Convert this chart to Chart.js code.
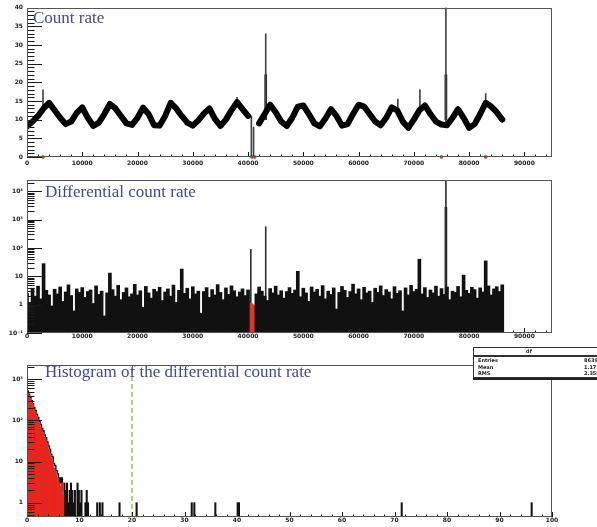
<!DOCTYPE html>
<html>
<head>
<meta charset="utf-8">
<script src="https://cdn.jsdelivr.net/npm/chart.js@4.4.1/dist/chart.umd.min.js"></script>
<style>
  html, body { margin: 0; padding: 0; background: #fff; }
  body { width: 597px; height: 527px; position: relative; overflow: hidden; }
  canvas { position: absolute; left: 0; }
  .title {
    position: absolute;
    font-family: "Liberation Serif", "DejaVu Serif", serif;
    font-size: 17px;
    line-height: 17px;
    color: #45489a;
    white-space: nowrap;
  }
  #stats {
    position: absolute;
    left: 473px;
    top: 347px;
    width: 140px;
    height: 29px;
    background: #fff;
    border: 1px solid #333;
    box-shadow: 0 2px 0 #222;
    font-family: "DejaVu Sans", sans-serif;
    font-size: 5px;
    font-weight: bold;
    color: #222;
  }
  #stats .hd { height: 7px; line-height: 7px; text-align: center; border-bottom: 2px solid #333; padding-right: 30px; }
  #stats .row { height: 6.5px; line-height: 6.5px; position: relative; padding-left: 4px; }
  #stats .row span { position: absolute; left: 110px; }
</style>
</head>
<body>
<canvas id="rateChart" width="597" height="170" style="top:0px"></canvas>
<canvas id="diffChart" width="597" height="175" style="top:170px"></canvas>
<canvas id="histChart" width="597" height="182" style="top:345px"></canvas>

<div class="title" style="left:33px; top:9px">Count rate</div>
<div class="title" style="left:45px; top:183px">Differential count rate</div>
<div class="title" style="left:45px; top:363px">Histogram of the differential count rate</div>

<div id="stats">
  <div class="hd">df</div>
  <div class="row">Entries<span>86399</span></div>
  <div class="row">Mean<span>1.171</span></div>
  <div class="row">RMS<span>2.358</span></div>
</div>

<script>
// tick labels
const timeTicks = [0, 10000, 20000, 30000, 40000, 50000, 60000, 70000, 80000, 90000];
const histTicks = [0, 10, 20, 30, 40, 50, 60, 70, 80, 90, 100];

// ---- panel 1: count rate ----
const rateTime = [
    0, 1000, 2000, 3000, 4000, 5000, 6000, 7000, 8000, 9000,
    10000, 11000, 12000, 13000, 14000, 15000, 16000, 17000, 18000, 19000,
    20000, 21000, 22000, 23000, 24000, 25000, 26000, 27000, 28000, 29000,
    30000, 31000, 32000, 33000, 34000, 35000, 36000, 37000, 38000, 39000,
    40000, 41000, 42000, 43000, 44000, 45000, 46000, 47000, 48000, 49000,
    50000, 51000, 52000, 53000, 54000, 55000, 56000, 57000, 58000, 59000,
    60000, 61000, 62000, 63000, 64000, 65000, 66000, 67000, 68000, 69000,
    70000, 71000, 72000, 73000, 74000, 75000, 76000, 77000, 78000, 79000,
    80000, 81000, 82000, 83000, 84000, 85000, 86000
];
const rateValue = [
    8.2, 9.5, 11.0, 13.0, 14.5, 12.5, 10.5, 8.8, 9.5, 11.8,
    13.3, 10.5, 8.3, 9.2, 11.5, 14.2, 13.0, 11.0, 9.0, 8.6,
    10.5, 13.2, 11.5, 8.5, 8.4, 11.0, 14.5, 13.0, 11.0, 9.2,
    8.4, 9.8, 11.6, 13.0, 10.2, 8.3, 10.0, 12.5, 14.7, 12.8,
    11.0, null, 9.0, 11.5, 14.0, 12.0, 9.5, 8.3, 10.5, 13.5,
    13.8, 11.5, 9.0, 8.2, 10.3, 12.8, 11.0, 8.4, 8.8, 11.5,
    14.0, 13.5, 11.5, 9.5, 8.5, 10.5, 13.3, 12.5, 9.5, 7.8,
    10.0, 12.5, 13.8, 11.5, 9.5, 8.7, 8.5, 10.5, 12.8, 10.5,
    7.8, 8.8, 11.5, 14.5, 13.5, 12.0, 10.0
];
// thin spikes and the drop-out
const spikeTime = [2900, 38000, 40600, 41000, 43200, 67100, 71100, 75800, 83000];
const spikeLow  = [13, 14, 0, 0, 10, 12, 13, 9, 14];
const spikeHigh = [18, 16, 11, 8, 33, 15.5, 18, 40, 17];
const spikeCoreTime = [43200, 75800];
const spikeCoreHigh = [22, 22];
const flagTime = [2900, 40700, 41200, 75000, 83000];

// ---- panel 2: differential count rate ----
const diffTime = [
    0, 500, 1000, 1500, 2000, 2500, 3000, 3500, 4000, 4500,
    5000, 5500, 6000, 6500, 7000, 7500, 8000, 8500, 9000, 9500,
    10000, 10500, 11000, 11500, 12000, 12500, 13000, 13500, 14000, 14500,
    15000, 15500, 16000, 16500, 17000, 17500, 18000, 18500, 19000, 19500,
    20000, 20500, 21000, 21500, 22000, 22500, 23000, 23500, 24000, 24500,
    25000, 25500, 26000, 26500, 27000, 27500, 28000, 28500, 29000, 29500,
    30000, 30500, 31000, 31500, 32000, 32500, 33000, 33500, 34000, 34500,
    35000, 35500, 36000, 36500, 37000, 37500, 38000, 38500, 39000, 39500,
    40000, 40500, 41000, 41500, 42000, 42500, 43000, 43500, 44000, 44500,
    45000, 45500, 46000, 46500, 47000, 47500, 48000, 48500, 49000, 49500,
    50000, 50500, 51000, 51500, 52000, 52500, 53000, 53500, 54000, 54500,
    55000, 55500, 56000, 56500, 57000, 57500, 58000, 58500, 59000, 59500,
    60000, 60500, 61000, 61500, 62000, 62500, 63000, 63500, 64000, 64500,
    65000, 65500, 66000, 66500, 67000, 67500, 68000, 68500, 69000, 69500,
    70000, 70500, 71000, 71500, 72000, 72500, 73000, 73500, 74000, 74500,
    75000, 75500, 76000, 76500, 77000, 77500, 78000, 78500, 79000, 79500,
    80000, 80500, 81000, 81500, 82000, 82500, 83000, 83500, 84000, 84500,
    85000, 85500, 86000
];
const diffValue = [
    2.5, 1.2, 3.8, 2.0, 4.5, 1.6, 28, 3.2, 2.2, 0.9,
    3.5, 2.4, 4.2, 1.3, 2.8, 5.0, 2.1, 0.6, 3.6, 2.7,
    4.0, 1.8, 2.9, 3.3, 1.1, 4.6, 2.3, 3.0, 0.4, 2.6,
    13, 3.4, 2.0, 4.8, 1.5, 2.7, 3.9, 1.9, 2.4, 5.2,
    2.2, 3.1, 0.8, 4.4, 2.6, 1.7, 3.5, 2.9, 4.1, 1.4,
    2.8, 3.6, 2.0, 4.9, 1.2, 3.2, 18, 2.5, 3.8, 1.6,
    4.3, 2.4, 3.0, 0.5, 2.9, 4.0, 1.8, 3.4, 2.2, 5.1,
    2.7, 1.5, 3.9, 2.3, 4.6, 3.1, 1.9, 2.8, 3.6, 2.1,
    3.3, null, null, 2.4, 4.2, 3.0, 2.0, 1.4, 3.7, 2.6,
    4.5, 2.2, 3.1, 1.7, 2.9, 4.0, 2.5, 3.3, 15, 1.9,
    3.8, 2.6, 1.3, 4.2, 2.8, 3.5, 2.0, 4.7, 1.6, 3.0,
    2.3, 3.9, 0.7, 2.7, 4.4, 3.2, 1.8, 2.9, 5.3, 2.4,
    3.6, 1.5, 4.1, 2.6, 3.0, 1.2, 3.8, 2.7, 4.6, 2.1,
    3.4, 2.8, 1.6, 4.3, 2.5, 3.1, 0.6, 3.9, 2.2, 4.8,
    2.9, 3.5, 40, 2.4, 4.0, 1.8, 3.3, 2.6, 4.5, 2.0,
    3.7, 2.3, 4.2, 1.5, 3.0, 2.7, 4.4, 1.9, 11, 3.2,
    2.5, 4.1, 3.4, 1.7, 3.9, 2.8, 35, 4.6, 2.2, 3.6,
    4.3, 2.9, 5.0
];
const diffSpikeTime = [40500, 43200, 75800];
const diffSpikeValue = [90, 560, 25000];
const diffCoreTime = [75800];
const diffCoreValue = [2700];
const diffRedTime = [40600, 40900, 41200, 43000];
const diffRedValue = [1.1, 1.0, 0.9, 0.3];

// ---- panel 3: histogram of the differential count rate ----
const histX = [
    0.125, 0.375, 0.625, 0.875, 1.125, 1.375, 1.625, 1.875, 2.125, 2.375,
    2.625, 2.875, 3.125, 3.375, 3.625, 3.875, 4.125, 4.375, 4.625, 4.875,
    5.125, 5.375, 5.625, 5.875, 6.125, 6.375, 6.625, 6.875
];
const histCount = [
    520, 430, 360, 300, 255, 205, 175, 140, 118, 95,
    80, 64, 55, 44, 38, 30, 24, 20, 15, 13,
    9, 8, 6, 5, 4, 3, 4, 2
];
const histRed = [
    480, 410, 340, 285, 240, 190, 160, 125, 105, 85,
    70, 55, 46, 38, 32, 25, 20, 16, 12, 10,
    7, 6, 5, 4, 3, 2.5, 3, 1.5
];
const tailX = [
    7.125, 7.375, 7.625, 7.875, 8.125, 8.375, 8.625, 8.875, 9.125, 9.625,
    9.875, 10.125, 10.375, 11.125, 11.375, 11.625, 13.375, 13.875, 14.375, 17.625,
    20.875, 31.375, 31.875, 35.875, 40.125, 40.375, 71.375, 96.125
];
const tailCount = [
    3, 2, 3, 1, 2, 3, 2, 1, 2, 3,
    2, 1, 2, 1, 2, 1, 1, 1, 1, 1,
    1, 1, 1, 1, 1, 1, 1, 1
];
const cutX = 20;
const histMin = 0.45;
const histMax = 2200;

const sup = { "-": "\u207B", "0": "\u2070", "1": "\u00B9", "2": "\u00B2", "3": "\u00B3", "4": "\u2074", "5": "\u2075" };
const logLabel = (v) => {
    const e = Math.round(Math.log10(v));
    if (Math.abs(Math.log10(v) - e) > 1e-6) return null;
    if (e === 0) return "1";
    if (e === 1) return "10";
    return "10" + String(e).split("").map(c => sup[c]).join("");
};

// ROOT-like frame with ticks drawn inside
const rootAxes = {
    id: "rootAxes",
    afterDatasetsDraw(chart, args, opts) {
        const ctx = chart.ctx;
        const a = chart.chartArea;
        const xs = chart.scales.x;
        const ys = chart.scales.y;
        ctx.save();
        ctx.strokeStyle = "#1a1a1a";
        ctx.lineWidth = 1;
        ctx.beginPath();
        const xMinor = opts.xStep / 5;
        for (let i = 0; xs.min + i * xMinor <= xs.max + 1e-9; i++) {
            const px = Math.round(xs.getPixelForValue(xs.min + i * xMinor)) + 0.5;
            const len = i % 5 === 0 ? 5 : 2.5;
            ctx.moveTo(px, a.bottom);
            ctx.lineTo(px, a.bottom - len);
        }
        if (ys.type === "logarithmic") {
            for (let e = Math.floor(Math.log10(ys.min)); e <= Math.ceil(Math.log10(ys.max)); e++) {
                for (let k = 1; k < 10; k++) {
                    const v = k * Math.pow(10, e);
                    if (v < ys.min || v > ys.max) continue;
                    const py = Math.round(ys.getPixelForValue(v)) + 0.5;
                    ctx.moveTo(a.left, py);
                    ctx.lineTo(a.left + (k === 1 ? 15 : 7.5), py);
                }
            }
        } else {
            const yMinor = opts.yStep / 5;
            for (let i = 0; ys.min + i * yMinor <= ys.max + 1e-9; i++) {
                const py = Math.round(ys.getPixelForValue(ys.min + i * yMinor)) + 0.5;
                ctx.moveTo(a.left, py);
                ctx.lineTo(a.left + (i % 5 === 0 ? 15 : 7.5), py);
            }
        }
        ctx.stroke();
        ctx.strokeStyle = "#555";
        ctx.strokeRect(Math.round(a.left) + 0.5, Math.round(a.top) + 0.5, Math.round(a.width) - 1, Math.round(a.height) - 1);
        ctx.restore();
    }
};

const tickFont = { family: "DejaVu Sans", size: 6, weight: "bold" };

const xAxis = (max, tickList, height, pad) => ({
    type: "linear",
    min: 0,
    max: max,
    offset: false,
    grid: { display: false, drawTicks: false },
    border: { display: false },
    afterBuildTicks: (s) => { s.ticks = tickList.map(v => ({ value: v })); },
    ticks: { autoSkip: false, maxRotation: 0, padding: pad, font: tickFont, color: "#222",
             callback: (v) => String(v) },
    afterFit: (s) => { s.height = height; }
});

const baseOptions = (padTop, xScale, yScale, xStep, yStep) => ({
    responsive: false,
    animation: false,
    devicePixelRatio: 1,
    layout: { padding: { top: padTop, right: 45, left: 0, bottom: 0 } },
    scales: { x: xScale, y: yScale },
    plugins: {
        legend: { display: false },
        tooltip: { enabled: false },
        rootAxes: { xStep: xStep, yStep: yStep }
    }
});

const drawRateChart = () => {
    const line = rateTime.map((t, i) => ({ x: t, y: rateValue[i] }));
    const spikes = spikeTime.map((t, i) => ({ x: t, y: [spikeLow[i], spikeHigh[i]] }));
    const cores = spikeCoreTime.map((t, i) => ({ x: t, y: [10, spikeCoreHigh[i]] }));
    const flags = flagTime.map(t => ({ x: t, y: 0 }));

    new Chart("rateChart", {
        type: "line",
        data: {
            datasets: [
                { data: line, borderColor: "#000", borderWidth: 6, pointRadius: 0, tension: 0,
                  borderJoinStyle: "round", borderCapStyle: "round", spanGaps: false },
                { type: "bar", data: spikes, backgroundColor: "#444", barThickness: 1, grouped: false },
                { type: "bar", data: cores, backgroundColor: "#111", barThickness: 2, grouped: false },
                { data: flags, showLine: false, pointRadius: 1.6, pointStyle: "rect",
                  backgroundColor: "#e8302a", borderColor: "#e8302a", clip: false }
            ]
        },
        options: baseOptions(7, xAxis(95000, timeTicks, 13, 3), {
            type: "linear", min: 0, max: 40,
            grid: { display: false, drawTicks: false },
            border: { display: false },
            ticks: { stepSize: 5, padding: 4, font: tickFont, color: "#222" },
            afterFit: (s) => { s.width = 27; }
        }, 10000, 5),
        plugins: [rootAxes]
    });
};

const drawDiffChart = () => {
    const noise = diffTime.map((t, i) => ({ x: t, y: diffValue[i] }));
    const spikes = diffSpikeTime.map((t, i) => ({ x: t, y: diffSpikeValue[i] }));
    const cores = diffCoreTime.map((t, i) => ({ x: t, y: diffCoreValue[i] }));
    const red = diffRedTime.map((t, i) => ({ x: t, y: diffRedValue[i] }));

    new Chart("diffChart", {
        type: "bar",
        data: {
            datasets: [
                { data: noise, backgroundColor: "#111", barThickness: 3, grouped: false },
                { data: red, backgroundColor: "#e8302a", barThickness: 2, grouped: false },
                { data: spikes, backgroundColor: "#333", barThickness: 1, grouped: false },
                { data: cores, backgroundColor: "#111", barThickness: 2, grouped: false }
            ]
        },
        options: baseOptions(10, xAxis(95000, timeTicks, 12, 0), {
            type: "logarithmic", min: 0.1, max: 25000,
            grid: { display: false, drawTicks: false },
            border: { display: false },
            ticks: { autoSkip: false, padding: 4, font: tickFont, color: "#222", callback: (v) => logLabel(v) },
            afterFit: (s) => { s.width = 27; }
        }, 10000, 1),
        plugins: [rootAxes]
    });
};

const drawHistChart = () => {
    const outline = histX.map((x, i) => ({ x: x, y: histCount[i] }));
    const red = histX.map((x, i) => ({ x: x, y: histRed[i] }));
    const tail = tailX.map((x, i) => ({ x: x, y: tailCount[i] }));

    new Chart("histChart", {
        type: "bar",
        data: {
            datasets: [
                { data: red, backgroundColor: "#e8261e", barThickness: 1.7, grouped: false },
                { type: "line", data: outline, borderColor: "#000", borderWidth: 1.3, pointRadius: 0, stepped: "middle" },
                { data: tail, backgroundColor: "#111", barThickness: 1.4, grouped: false },
                { type: "line", data: [{ x: cutX, y: histMin }, { x: cutX, y: histMax }],
                  borderColor: "#95c35a", borderWidth: 1.5, borderDash: [5, 3], pointRadius: 0 }
            ]
        },
        options: baseOptions(20, xAxis(100, histTicks, 10, 0), {
            type: "logarithmic", min: histMin, max: histMax,
            grid: { display: false, drawTicks: false },
            border: { display: false },
            ticks: { autoSkip: false, padding: 4, font: tickFont, color: "#222", callback: (v) => logLabel(v) },
            afterFit: (s) => { s.width = 27; }
        }, 10, 1),
        plugins: [rootAxes]
    });
};

drawRateChart();
drawDiffChart();
drawHistChart();
</script>
</body>
</html>
